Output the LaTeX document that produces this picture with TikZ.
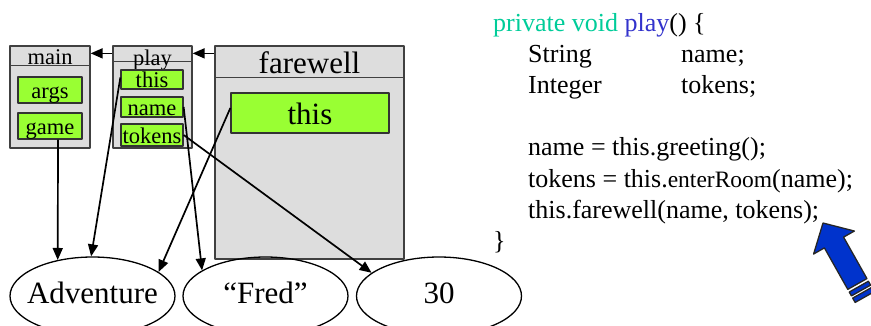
\documentclass[tikz,border=0pt]{standalone}
\usepackage{fontspec}
\setmainfont{Liberation Serif}
\usetikzlibrary{shapes.geometric, arrows.meta}
\definecolor{framegray}{RGB}{221,221,221}
\definecolor{slotgreen}{RGB}{153,255,51}
\definecolor{keyteal}{RGB}{0,204,153}
\definecolor{methblue}{RGB}{51,51,204}
\definecolor{bigblue}{RGB}{0,51,204}
\tikzset{
  stackframe/.style={draw=black!75, fill=framegray, line width=1.3pt, inner sep=0pt},
  headline/.style={draw=black!75, line width=1.3pt},
  framelbl/.style={anchor=base, inner sep=0pt},
  slot/.style={draw=black!80, fill=slotgreen, line width=1.3pt, inner sep=0pt,
    font=\fontsize{22.5}{27}\selectfont, text height=16pt, text depth=0pt},
  obj/.style={draw, ellipse, line width=1.3pt, minimum width=165pt, minimum height=78pt,
    inner sep=0pt, font=\fontsize{31}{37}\selectfont, text height=14pt, text depth=0pt},
  codeline/.style={anchor=base west, inner sep=0pt, font=\fontsize{26}{31}\selectfont},
  pointer/.style={->, line width=1.7pt},
}
\begin{document}
\begin{tikzpicture}[x=1pt, y=-1pt, line join=round, >={Triangle[length=12pt, width=10pt]}]
  \useasboundingbox (0,0) rectangle (871,325);
  \clip (0,0) rectangle (871,325);
  % stack frames
  \node[stackframe, minimum width=80pt, minimum height=102pt] (mainframe) at (50,97) {};
  \node[stackframe, minimum width=79pt, minimum height=102pt] (playframe) at (152.5,97) {};
  \node[stackframe, minimum width=189pt, minimum height=213pt] (fareframe) at (309.5,152.5) {};
  \draw[headline] ([yshift=-20pt]mainframe.north west) -- ([yshift=-20pt]mainframe.north east);
  \draw[headline] ([yshift=-16pt]playframe.north west) -- ([yshift=-16pt]playframe.north east);
  \draw[headline] ([yshift=-32pt]fareframe.north west) -- ([yshift=-32pt]fareframe.north east);
  \node[framelbl, font=\fontsize{22.5}{27}\selectfont] (mainlbl) at (50,64) {main};
  \node[framelbl, font=\fontsize{22.5}{27}\selectfont] (playlbl) at (152.5,65) {play};
  \node[framelbl, font=\fontsize{31}{37}\selectfont] (farelbl) at (309.5,73) {farewell};
  % local variables
  \node[slot, minimum width=64pt, minimum height=26pt] (args) at (50,90) {args};
  \node[slot, minimum width=64pt, minimum height=26pt] (game) at (50,126) {game};
  \node[slot, minimum width=62pt, minimum height=19pt] (pthis) at (152,79.5) {this};
  \node[slot, minimum width=62pt, minimum height=20pt] (pname) at (152,107) {name};
  \node[slot, minimum width=62pt, minimum height=22pt] (ptokens) at (152,135) {tokens};
  \node[slot, minimum width=158pt, minimum height=40pt, font=\fontsize{31}{37}\selectfont,
    text height=22pt] (fthis) at (310,113) {this};
  % objects
  \node[obj] (advent) at (92.5,296) {\makebox[0pt]{Adventure}};
  \node[obj] (fred) at (265.5,296) {\makebox[0pt]{“Fred”}};
  \node[obj] (thirty) at (439,296) {\makebox[0pt]{30}};
  % pointers
  \draw[pointer] ([yshift=-8pt]playframe.north west) -- ([yshift=-8pt]mainframe.north east);
  \draw[pointer] ([yshift=-8pt]fareframe.north west) -- ([yshift=-8pt]playframe.north east);
  \draw[pointer] ([xshift=8pt]game.south) -- (advent.134);
  \draw[pointer] ([yshift=2pt]pthis.west) -- (advent.92);
  \draw[pointer] ([yshift=5pt]fthis.west) -- (advent.20);
  \draw[pointer] (pname.east) -- (fred.158);
  \draw[pointer] (ptokens.east) -- (thirty.161);
  % code
  \node[codeline] (c1) at (493,31) {\textcolor{keyteal}{private void} \textcolor{methblue}{play}() \{};
  \node[codeline] (c2) at (528,62) {String};
  \node[codeline] (c2b) at (681,62) {name;};
  \node[codeline] (c3) at (528,93) {Integer};
  \node[codeline] (c3b) at (681,93) {tokens;};
  \node[codeline] (c4) at (528,155) {name = this.greeting();};
  \node[codeline] (c5) at (528,187) {tokens = this.{\fontsize{23.5}{28}\selectfont enterRoom}(name);};
  \node[codeline] (c6) at (528,218) {this.farewell(name, tokens);};
  \node[codeline] (c7) at (493,249) {\}};
  % big arrow
  \begin{scope}[shift={(823,223)}, rotate=119.4]
    \draw[fill=bigblue, draw=black!85, line width=1.3pt] (0,0) -- (-22.4,23.4) -- (-22.4,11) -- (-70,11)
      -- (-70,-11) -- (-22.4,-11) -- (-22.4,-23.4) -- cycle;
    \draw[fill=bigblue, draw=black!85, line width=1.3pt] (-73,-11) rectangle (-77.5,11);
    \draw[fill=bigblue, draw=black!85, line width=1.3pt] (-80,-11) rectangle (-85,11);
  \end{scope}
\end{tikzpicture}
\end{document}
